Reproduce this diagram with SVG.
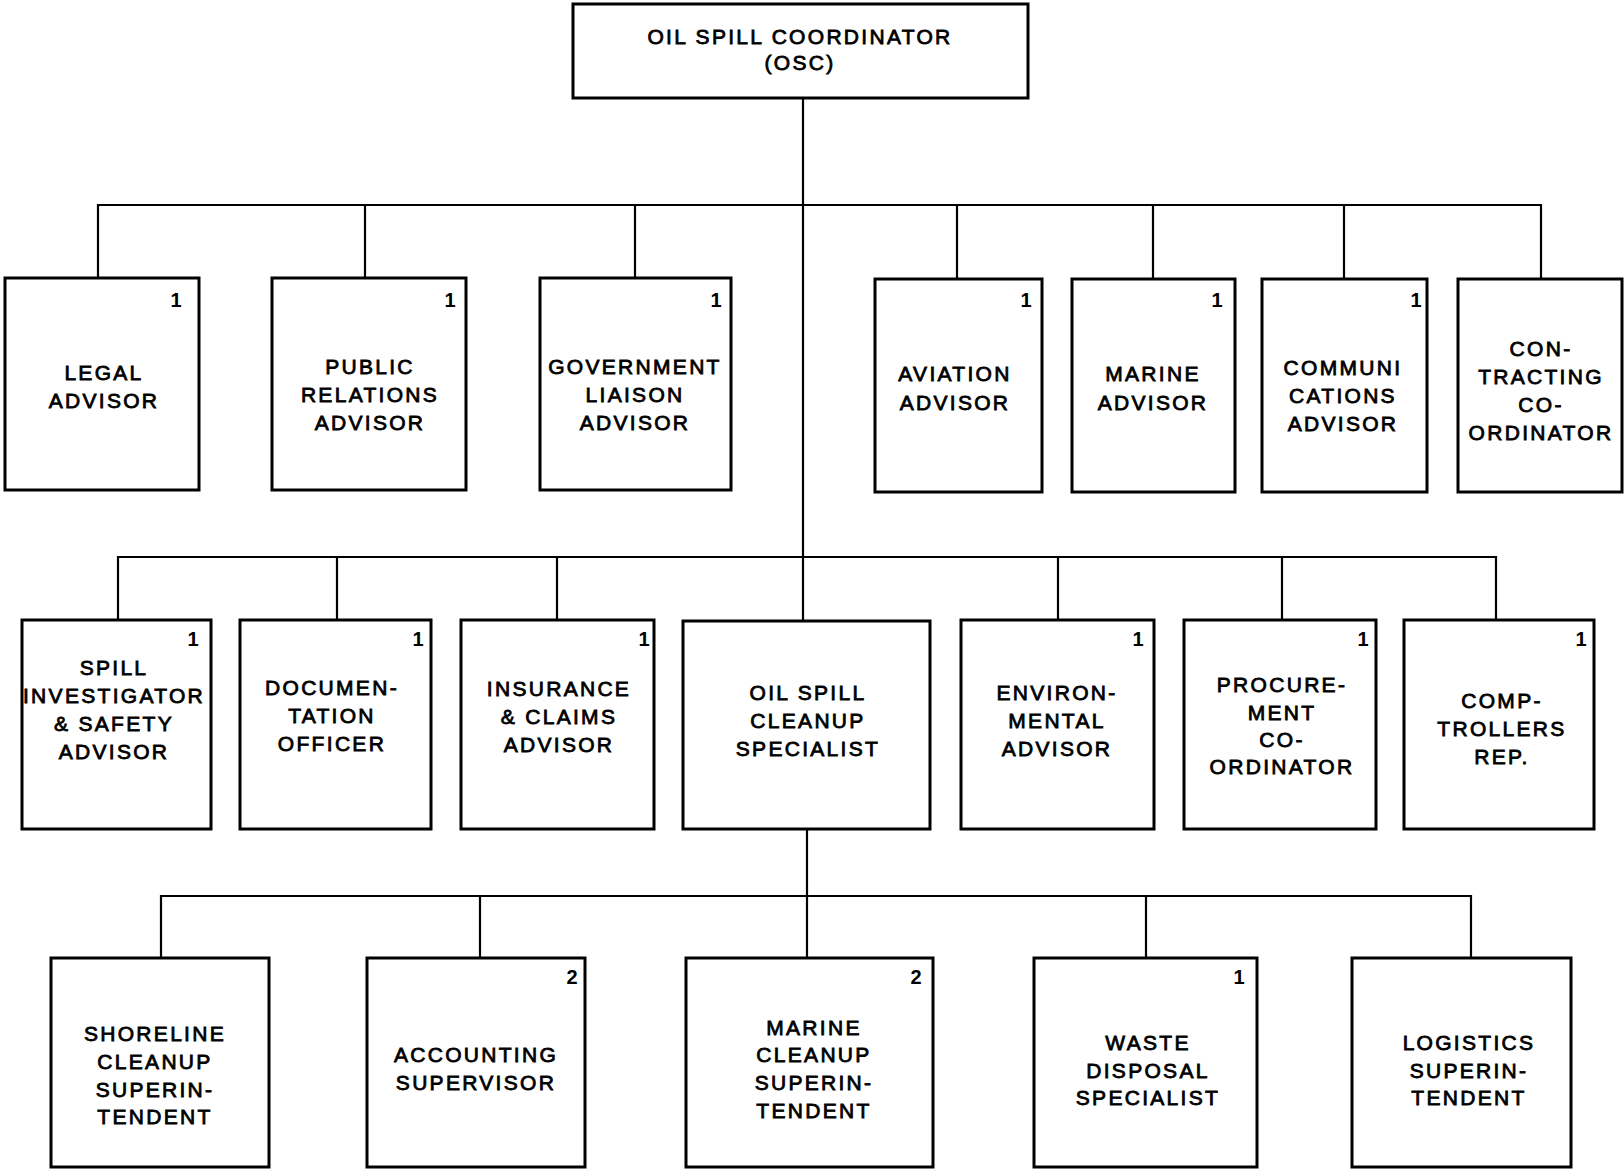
<svg xmlns="http://www.w3.org/2000/svg" width="1624" height="1170" viewBox="0 0 1624 1170">
<style>
  .box { fill: #ffffff; stroke: #000000; stroke-width: 3; }
  .wire { fill: none; stroke: #000000; stroke-width: 2.2; }
  .lbl { font-family: "Liberation Sans", Arial, sans-serif; font-size: 21px; letter-spacing: 2.3px; text-anchor: middle; fill: #000000; stroke: #000000; stroke-width: 0.8; }
  .num { font-family: "Liberation Sans", Arial, sans-serif; font-size: 20px; font-weight: bold; text-anchor: middle; fill: #000000; }
</style>
<rect x="0" y="0" width="1624" height="1170" fill="#ffffff"/>

<g id="connectors">
  <path class="wire" d="M803 98 V621"/>
  <path class="wire" d="M98 278 V205 H1541 V278"/>
  <path class="wire" d="M365 205 V278 M635 205 V278 M957 205 V279 M1153 205 V279 M1344 205 V279"/>
  <path class="wire" d="M118 620 V557 H1496 V620"/>
  <path class="wire" d="M337 557 V620 M557 557 V620 M1058 557 V620 M1282 557 V620"/>
  <path class="wire" d="M807 829 V958"/>
  <path class="wire" d="M161 958 V896 H1471 V958"/>
  <path class="wire" d="M480 896 V958 M1146 896 V958"/>
</g>

<g id="osc">
  <rect class="box" x="573" y="4" width="455" height="94"/>
  <text class="lbl" x="800" y="44">OIL SPILL COORDINATOR</text>
  <text class="lbl" x="800" y="70">(OSC)</text>
</g>

<g id="legal-advisor">
  <rect class="box" x="5" y="278" width="194" height="212"/>
  <text class="num" x="176" y="307">1</text>
  <text class="lbl" x="104" y="380">LEGAL</text>
  <text class="lbl" x="104" y="408">ADVISOR</text>
</g>
<g id="public-relations-advisor">
  <rect class="box" x="272" y="278" width="194" height="212"/>
  <text class="num" x="450" y="307">1</text>
  <text class="lbl" x="370" y="374">PUBLIC</text>
  <text class="lbl" x="370" y="402">RELATIONS</text>
  <text class="lbl" x="370" y="430">ADVISOR</text>
</g>
<g id="government-liaison-advisor">
  <rect class="box" x="540" y="278" width="191" height="212"/>
  <text class="num" x="716" y="307">1</text>
  <text class="lbl" x="635" y="374">GOVERNMENT</text>
  <text class="lbl" x="635" y="402">LIAISON</text>
  <text class="lbl" x="635" y="430">ADVISOR</text>
</g>
<g id="aviation-advisor">
  <rect class="box" x="875" y="279" width="167" height="213"/>
  <text class="num" x="1026" y="307">1</text>
  <text class="lbl" x="955" y="381">AVIATION</text>
  <text class="lbl" x="955" y="410">ADVISOR</text>
</g>
<g id="marine-advisor">
  <rect class="box" x="1072" y="279" width="163" height="213"/>
  <text class="num" x="1217" y="307">1</text>
  <text class="lbl" x="1153" y="381">MARINE</text>
  <text class="lbl" x="1153" y="410">ADVISOR</text>
</g>
<g id="communications-advisor">
  <rect class="box" x="1262" y="279" width="165" height="213"/>
  <text class="num" x="1416" y="307">1</text>
  <text class="lbl" x="1343" y="375">COMMUNI</text>
  <text class="lbl" x="1343" y="403">CATIONS</text>
  <text class="lbl" x="1343" y="431">ADVISOR</text>
</g>
<g id="contracting-coordinator">
  <rect class="box" x="1458" y="279" width="164" height="213"/>
  <text class="lbl" x="1541" y="356">CON-</text>
  <text class="lbl" x="1541" y="384">TRACTING</text>
  <text class="lbl" x="1541" y="412">CO-</text>
  <text class="lbl" x="1541" y="440">ORDINATOR</text>
</g>

<g id="spill-investigator-safety-advisor">
  <rect class="box" x="22" y="620" width="189" height="209"/>
  <text class="num" x="193" y="646">1</text>
  <text class="lbl" x="114" y="675">SPILL</text>
  <text class="lbl" x="114" y="703">INVESTIGATOR</text>
  <text class="lbl" x="114" y="731">&amp; SAFETY</text>
  <text class="lbl" x="114" y="759">ADVISOR</text>
</g>
<g id="documentation-officer">
  <rect class="box" x="240" y="620" width="191" height="209"/>
  <text class="num" x="418" y="646">1</text>
  <text class="lbl" x="332" y="695">DOCUMEN-</text>
  <text class="lbl" x="332" y="723">TATION</text>
  <text class="lbl" x="332" y="751">OFFICER</text>
</g>
<g id="insurance-claims-advisor">
  <rect class="box" x="461" y="620" width="193" height="209"/>
  <text class="num" x="644" y="646">1</text>
  <text class="lbl" x="559" y="696">INSURANCE</text>
  <text class="lbl" x="559" y="724">&amp; CLAIMS</text>
  <text class="lbl" x="559" y="752">ADVISOR</text>
</g>
<g id="oil-spill-cleanup-specialist">
  <rect class="box" x="683" y="621" width="247" height="208"/>
  <text class="lbl" x="808" y="700">OIL SPILL</text>
  <text class="lbl" x="808" y="728">CLEANUP</text>
  <text class="lbl" x="808" y="756">SPECIALIST</text>
</g>
<g id="environmental-advisor">
  <rect class="box" x="961" y="620" width="193" height="209"/>
  <text class="num" x="1138" y="646">1</text>
  <text class="lbl" x="1057" y="700">ENVIRON-</text>
  <text class="lbl" x="1057" y="728">MENTAL</text>
  <text class="lbl" x="1057" y="756">ADVISOR</text>
</g>
<g id="procurement-coordinator">
  <rect class="box" x="1184" y="620" width="192" height="209"/>
  <text class="num" x="1363" y="646">1</text>
  <text class="lbl" x="1282" y="692">PROCURE-</text>
  <text class="lbl" x="1282" y="720">MENT</text>
  <text class="lbl" x="1282" y="747">CO-</text>
  <text class="lbl" x="1282" y="774">ORDINATOR</text>
</g>
<g id="comptrollers-rep">
  <rect class="box" x="1404" y="620" width="190" height="209"/>
  <text class="num" x="1581" y="646">1</text>
  <text class="lbl" x="1502" y="708">COMP-</text>
  <text class="lbl" x="1502" y="736">TROLLERS</text>
  <text class="lbl" x="1502" y="764">REP.</text>
</g>

<g id="shoreline-cleanup-superintendent">
  <rect class="box" x="51" y="958" width="218" height="209"/>
  <text class="lbl" x="155" y="1041">SHORELINE</text>
  <text class="lbl" x="155" y="1069">CLEANUP</text>
  <text class="lbl" x="155" y="1097">SUPERIN-</text>
  <text class="lbl" x="155" y="1124">TENDENT</text>
</g>
<g id="accounting-supervisor">
  <rect class="box" x="367" y="958" width="218" height="209"/>
  <text class="num" x="572" y="984">2</text>
  <text class="lbl" x="476" y="1062">ACCOUNTING</text>
  <text class="lbl" x="476" y="1090">SUPERVISOR</text>
</g>
<g id="marine-cleanup-superintendent">
  <rect class="box" x="686" y="958" width="247" height="209"/>
  <text class="num" x="916" y="984">2</text>
  <text class="lbl" x="814" y="1035">MARINE</text>
  <text class="lbl" x="814" y="1062">CLEANUP</text>
  <text class="lbl" x="814" y="1090">SUPERIN-</text>
  <text class="lbl" x="814" y="1118">TENDENT</text>
</g>
<g id="waste-disposal-specialist">
  <rect class="box" x="1034" y="958" width="223" height="209"/>
  <text class="num" x="1239" y="984">1</text>
  <text class="lbl" x="1148" y="1050">WASTE</text>
  <text class="lbl" x="1148" y="1078">DISPOSAL</text>
  <text class="lbl" x="1148" y="1105">SPECIALIST</text>
</g>
<g id="logistics-superintendent">
  <rect class="box" x="1352" y="958" width="219" height="209"/>
  <text class="lbl" x="1469" y="1050">LOGISTICS</text>
  <text class="lbl" x="1469" y="1078">SUPERIN-</text>
  <text class="lbl" x="1469" y="1105">TENDENT</text>
</g>
</svg>
